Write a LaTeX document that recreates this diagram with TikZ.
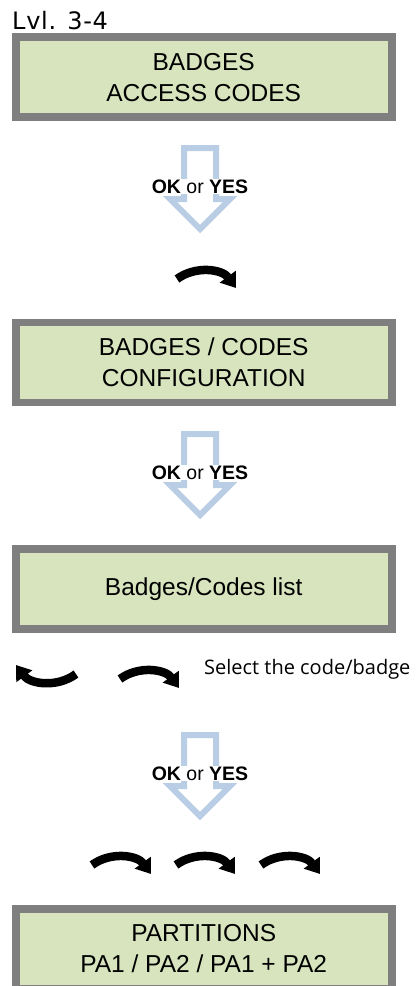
\documentclass[tikz,border=0pt]{standalone}
\usepackage{fontspec}
\setmainfont{Liberation Sans}
\newfontfamily\lvlfont{DejaVu Sans}[LetterSpace=3]
\newfontfamily\hintfont{Open Sans}
\usetikzlibrary{arrows.meta}
\definecolor{lcdgreen}{RGB}{215,228,189}
\definecolor{lcdframe}{RGB}{127,127,127}
\definecolor{okblue}{RGB}{185,205,229}

\begin{document}
\begin{tikzpicture}[x=1pt,y=-1pt]
    \tikzstyle{screen}=[draw=lcdframe, fill=lcdgreen, line width=7.7pt, minimum width=376pt, minimum height=80pt, align=center, font=\fontsize{24.5}{31}\selectfont]
    \tikzstyle{okarrow}=[draw=okblue, line width=6pt, line join=miter]
    \tikzstyle{oktext}=[fill=white, inner sep=1pt, font=\fontsize{19.5}{20}\selectfont]
    \tikzstyle{turn}=[line width=8.5pt, -{Triangle[length=14pt,width=19pt]}]

    \useasboundingbox (0,0) rectangle (418,986);

    \node[anchor=base west, inner sep=0pt, font=\lvlfont\fontsize{24}{24}\selectfont] (lvl) at (12,29.5) {Lvl. 3-4};

    \node[screen] (menu) at (203.7,77.3) {BADGES\\ACCESS CODES};
    \node[screen] (config) at (203.7,362.5) {BADGES / CODES\\CONFIGURATION};
    \node[screen] (list) at (203.7,589) {Badges/Codes list};
    \node[screen] (parts) at (203.7,949) {PARTITIONS\\PA1 / PA2 / PA1 + PA2};

    % OK or YES
    \foreach \y/\n in {145/1,431/2,732/3}{
      \draw[okarrow, shift={(200,\y)}] (-16,3) -- (-16,54) -- (-30,54) -- (0,84) -- (30,54) -- (16,54) -- (16,3) -- cycle;
      \node[oktext] (ok\n) at (200,\y+41.5) {\textbf{OK} or \textbf{YES}};
    }

    % turning arrows
    \foreach \x/\y/\n in {172/264/a,115/664/b,87/850/c,171/850/d,256/850/e}{
      \coordinate (\n s) at (\x+5,\y+15);
      \coordinate (\n e) at (\x+64,\y+24);
      \draw[turn] (\n s) to[bend left=45] (\n e);
    }
    \coordinate (back s) at (76,674);
    \coordinate (back e) at (16,665);
    \draw[turn] (back s) to[bend left=45] (back e);

    \node[anchor=base west, inner sep=0pt, font=\hintfont\fontsize{20}{20}\selectfont] (hint) at (204,674) {Select the code/badge};
\end{tikzpicture}
\end{document}
